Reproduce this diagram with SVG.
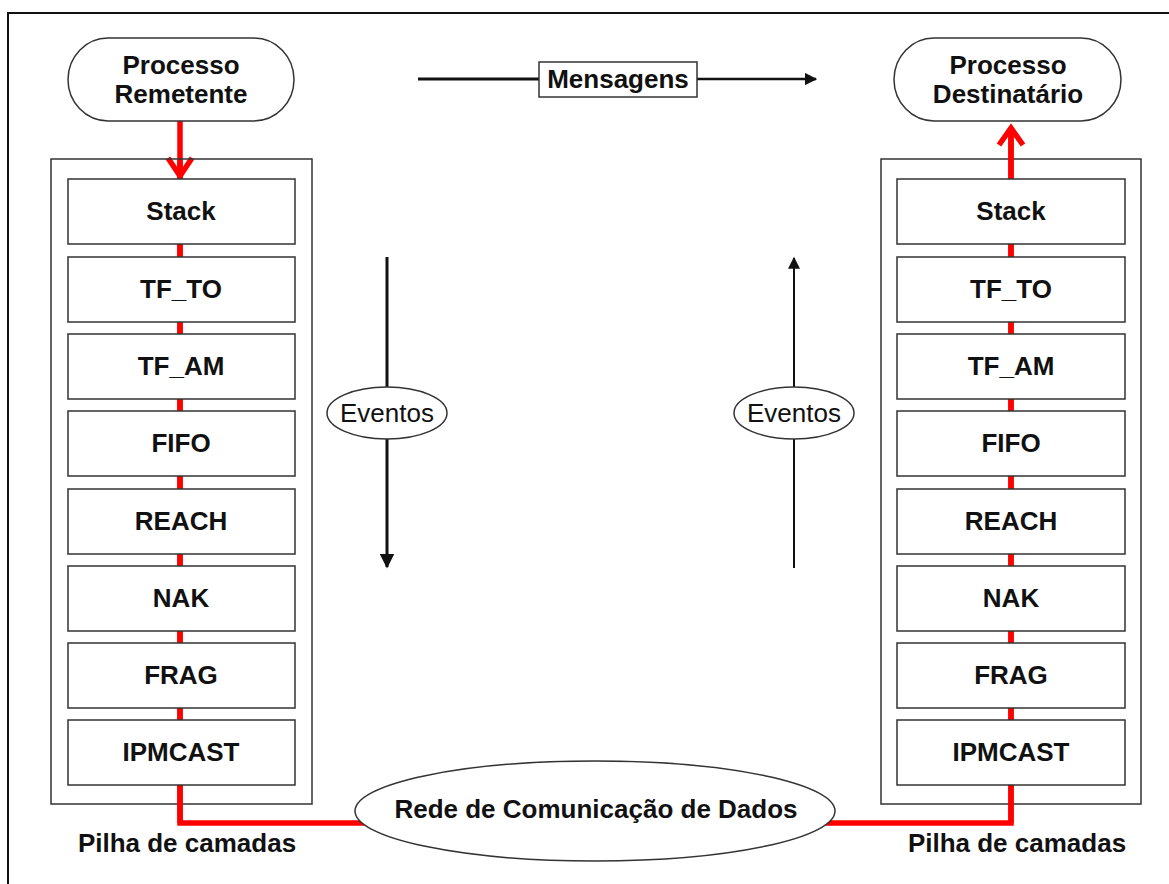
<svg xmlns="http://www.w3.org/2000/svg" width="1169" height="884" viewBox="0 0 1169 884">
  <style>
    .lbl { font-family: "Liberation Sans", Arial, sans-serif; font-size: 26px; font-weight: bold; fill: #111; text-anchor: middle; }
    .ev { font-family: "Liberation Sans", Arial, sans-serif; font-size: 26px; fill: #111; text-anchor: middle; }
    .box { fill: #fff; stroke: #333; stroke-width: 1.5; }
    .red { fill: none; stroke: #ff0000; stroke-width: 5.5; }
    .blk { fill: none; stroke: #111; }
  </style>
  <defs>
    <marker id="tri" viewBox="0 0 10 10" refX="9" refY="5" markerWidth="5" markerHeight="5" markerUnits="strokeWidth" orient="auto">
      <path d="M0,0 L10,5 L0,10 Z" fill="#111"/>
    </marker>
    <marker id="triThin" viewBox="0 0 10 10" refX="9" refY="5" markerWidth="6" markerHeight="6" markerUnits="strokeWidth" orient="auto">
      <path d="M0,0 L10,5 L0,10 Z" fill="#111"/>
    </marker>
  </defs>

  <rect width="1169" height="884" fill="#fff"/>
  <!-- outer frame -->
  <path d="M8,884 V13 H1169" fill="none" stroke="#111" stroke-width="2"/>

  <!-- connectors -->
  <g id="connectors">
    <!-- red data path: sender spine, network link, receiver spine -->
    <path class="red" d="M180,121 V823 H380"/>
    <path class="red" d="M810,823 H1011 V130"/>
    <!-- red arrowheads -->
    <polyline class="red" points="168,158 180,176 192,158" stroke-linejoin="miter"/>
    <polyline class="red" points="999,145 1011,128 1023,145" stroke-linejoin="miter"/>
    <!-- Mensagens arrow -->
    <line class="blk" x1="418" y1="79" x2="540" y2="79" stroke-width="3"/>
    <line class="blk" x1="696" y1="79" x2="816" y2="79" stroke-width="2.5" marker-end="url(#tri)"/>
    <!-- Eventos (down) -->
    <line class="blk" x1="387" y1="257" x2="387" y2="567" stroke-width="3" marker-end="url(#tri)"/>
    <!-- Eventos (up) -->
    <line class="blk" x1="794" y1="568" x2="794" y2="258" stroke-width="2" marker-end="url(#triThin)"/>
  </g>

  <!-- sender process -->
  <g id="proc-remetente">
    <rect class="box" x="68" y="38" width="226" height="83" rx="40" ry="41.5"/>
    <text class="lbl" x="181" y="74">Processo</text>
    <text class="lbl" x="181" y="103">Remetente</text>
  </g>

  <!-- receiver process -->
  <g id="proc-destinatario">
    <rect class="box" x="894" y="38" width="227" height="83" rx="40" ry="41.5"/>
    <text class="lbl" x="1008" y="74">Processo</text>
    <text class="lbl" x="1008" y="103">Destinatário</text>
  </g>

  <!-- Mensagens label -->
  <g id="mensagens">
    <rect class="box" x="539" y="62" width="158" height="35"/>
    <text class="lbl" x="618" y="88">Mensagens</text>
  </g>

  <!-- sender layer stack -->
  <g id="pilha-remetente">
    <rect x="51" y="159" width="261" height="645" fill="none" stroke="#333" stroke-width="1.5"/>
    <path class="red" d="M180,160 V823"/>
  </g>
  <g id="s-stack"><rect class="box" x="68" y="179" width="227" height="65"/><text class="lbl" x="181" y="220">Stack</text></g>
  <g id="s-tfto"><rect class="box" x="68" y="257" width="227" height="65"/><text class="lbl" x="181" y="298">TF_TO</text></g>
  <g id="s-tfam"><rect class="box" x="68" y="334" width="227" height="65"/><text class="lbl" x="181" y="375">TF_AM</text></g>
  <g id="s-fifo"><rect class="box" x="68" y="411" width="227" height="65"/><text class="lbl" x="181" y="452">FIFO</text></g>
  <g id="s-reach"><rect class="box" x="68" y="489" width="227" height="65"/><text class="lbl" x="181" y="530">REACH</text></g>
  <g id="s-nak"><rect class="box" x="68" y="566" width="227" height="65"/><text class="lbl" x="181" y="607">NAK</text></g>
  <g id="s-frag"><rect class="box" x="68" y="643" width="227" height="65"/><text class="lbl" x="181" y="684">FRAG</text></g>
  <g id="s-ipmcast"><rect class="box" x="68" y="720" width="227" height="65"/><text class="lbl" x="181" y="761">IPMCAST</text></g>
  <text class="lbl" x="187" y="852">Pilha de camadas</text>

  <!-- receiver layer stack -->
  <g id="pilha-destinatario">
    <rect x="881" y="159" width="260" height="645" fill="none" stroke="#333" stroke-width="1.5"/>
    <path class="red" d="M1011,130 V823"/>
  </g>
  <g id="r-stack"><rect class="box" x="897" y="179" width="228" height="65"/><text class="lbl" x="1011" y="220">Stack</text></g>
  <g id="r-tfto"><rect class="box" x="897" y="257" width="228" height="65"/><text class="lbl" x="1011" y="298">TF_TO</text></g>
  <g id="r-tfam"><rect class="box" x="897" y="334" width="228" height="65"/><text class="lbl" x="1011" y="375">TF_AM</text></g>
  <g id="r-fifo"><rect class="box" x="897" y="411" width="228" height="65"/><text class="lbl" x="1011" y="452">FIFO</text></g>
  <g id="r-reach"><rect class="box" x="897" y="489" width="228" height="65"/><text class="lbl" x="1011" y="530">REACH</text></g>
  <g id="r-nak"><rect class="box" x="897" y="566" width="228" height="65"/><text class="lbl" x="1011" y="607">NAK</text></g>
  <g id="r-frag"><rect class="box" x="897" y="643" width="228" height="65"/><text class="lbl" x="1011" y="684">FRAG</text></g>
  <g id="r-ipmcast"><rect class="box" x="897" y="720" width="228" height="65"/><text class="lbl" x="1011" y="761">IPMCAST</text></g>
  <text class="lbl" x="1017" y="852">Pilha de camadas</text>

  <!-- event labels -->
  <g id="eventos-desce">
    <ellipse class="box" cx="387" cy="413" rx="60" ry="26"/>
    <text class="ev" x="387" y="422">Eventos</text>
  </g>
  <g id="eventos-sobe">
    <ellipse class="box" cx="794" cy="413" rx="60" ry="26"/>
    <text class="ev" x="794" y="422">Eventos</text>
  </g>

  <!-- network -->
  <g id="rede">
    <ellipse class="box" cx="595" cy="811" rx="240" ry="50"/>
    <text class="lbl" x="596" y="818">Rede de Comunicação de Dados</text>
  </g>
</svg>
